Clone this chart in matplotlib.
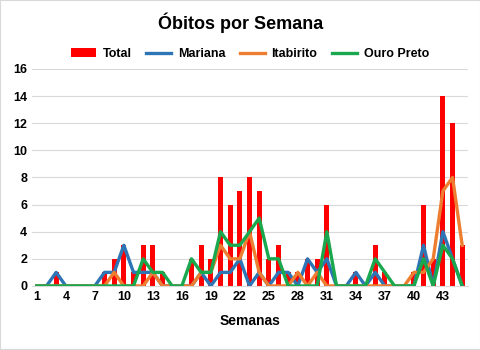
import numpy as np
import matplotlib
matplotlib.use('Agg')
from matplotlib import pyplot as plt
from matplotlib.patches import Rectangle

semanas = list(range(1, 46))
xtick_labels = [1, 4, 7, 10, 13, 16, 19, 22, 25, 28, 31, 34, 37, 40, 43]

total = [0, 0, 1, 0, 0, 0, 0, 1, 2, 3, 1, 3, 3, 1, 0, 0, 2, 3, 2, 8, 6, 7, 8,
         7, 2, 3, 1, 1, 2, 2, 6, 0, 0, 1, 0, 3, 1, 0, 0, 1, 6, 2, 14, 12, 3]
mariana = [0, 0, 1, 0, 0, 0, 0, 1, 1, 3, 1, 1, 1, 0, 0, 0, 0, 1, 0, 1, 1, 2, 0,
           1, 0, 1, 1, 0, 2, 1, 2, 0, 0, 1, 0, 1, 0, 0, 0, 0, 3, 0, 4, 2, 0]
itabirito = [0, 0, 0, 0, 0, 0, 0, 0, 1, 0, 0, 0, 1, 0, 0, 0, 0, 1, 1, 3, 2, 2, 4,
             1, 0, 0, 0, 1, 0, 1, 0, 0, 0, 0, 0, 0, 0, 0, 0, 1, 1, 2, 7, 8, 3]
ouro_preto = [0, 0, 0, 0, 0, 0, 0, 0, 0, 0, 0, 2, 1, 1, 0, 0, 2, 1, 1, 4, 3, 3, 4,
              5, 2, 2, 0, 0, 0, 0, 4, 0, 0, 0, 0, 2, 1, 0, 0, 0, 2, 0, 3, 2, 0]

plt.rcParams['font.family'] = ['Liberation Sans', 'DejaVu Sans']

fig = plt.figure(figsize=(4.81, 3.5), dpi=100)
ax = fig.add_axes([0.0665, 0.183, 0.9065, 0.62])

b = ax.bar(semanas, total, width=0.5, color='#FF0000', label='Total', zorder=2)
l1, = ax.plot(semanas, mariana, color='#2E75B6', lw=2.4, label='Mariana', zorder=3)
l2, = ax.plot(semanas, itabirito, color='#ED7D31', lw=2.4, label='Itabirito', zorder=3)
l3, = ax.plot(semanas, ouro_preto, color='#1AA84F', lw=2.4, label='Ouro Preto', zorder=4)

ax.set_xlim(0.5, 45.6)
ax.set_ylim(0, 16)
ax.set_yticks(np.arange(0, 17, 2))
ax.set_xticks(xtick_labels)
ax.tick_params(length=0, labelsize=9)
for lbl in ax.get_xticklabels() + ax.get_yticklabels():
  lbl.set_fontweight('bold')
ax.yaxis.grid(True, color='#D9D9D9', lw=0.8, zorder=0)
ax.set_axisbelow(True)
for s in ax.spines.values():
  s.set_visible(False)
ax.spines['bottom'].set_visible(True)
ax.spines['bottom'].set_color('#D9D9D9')

ax.set_xlabel('Semanas', fontsize=10, fontweight='bold', labelpad=8)
fig.suptitle('Óbitos por Semana', fontsize=13, fontweight='bold', y=0.965)

leg = ax.legend([b, l1, l2, l3], ['Total', 'Mariana', 'Itabirito', 'Ouro Preto'],
                loc='lower center', bbox_to_anchor=(0.5, 1.0), ncol=4,
                frameon=False, fontsize=9, handlelength=2.0, columnspacing=1.2,
                handletextpad=0.5, borderaxespad=0.3)
for t in leg.get_texts():
  t.set_fontweight('bold')

fig.patches.append(Rectangle((0, 0), 1, 1, transform=fig.transFigure,
                             fill=False, edgecolor='#D9D9D9', lw=1.5))

plt.savefig('out.png', dpi=100)
